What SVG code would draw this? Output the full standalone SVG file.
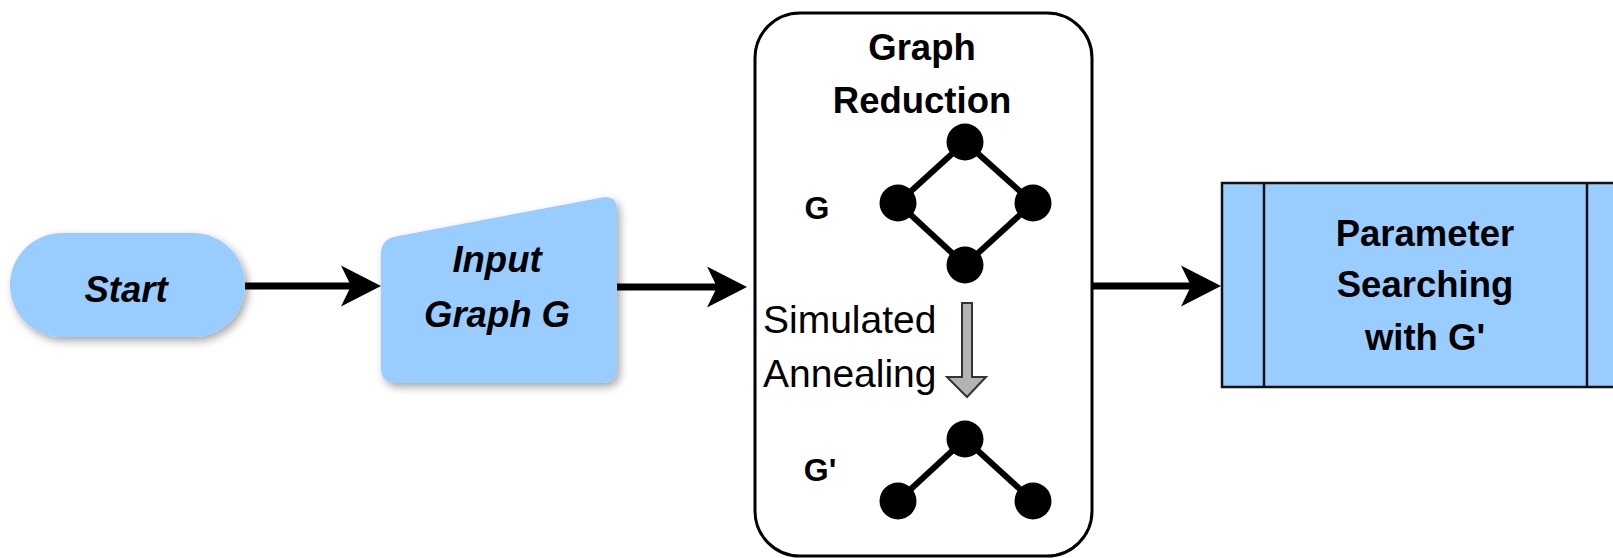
<svg xmlns="http://www.w3.org/2000/svg" width="1613" height="558" viewBox="0 0 1613 558">
  <style>
    .lbl { font-family: "Liberation Sans", Arial, sans-serif; fill: #000; }
    .bi { font-weight: bold; font-style: italic; font-size: 36.5px; text-anchor: middle; }
    .b { font-weight: bold; font-size: 36.5px; text-anchor: middle; }
    .g { font-weight: bold; font-size: 32px; text-anchor: middle; }
    .r { font-size: 39px; }
    .blue { fill: #99ccff; }
    .conn { stroke: #000; stroke-width: 7; fill: none; marker-end: url(#ah); }
    .edge { stroke: #000; stroke-width: 6; }
  </style>
  <defs>
    <filter id="sh" x="-20%" y="-20%" width="140%" height="150%">
      <feDropShadow dx="3" dy="4" stdDeviation="4" flood-color="#000" flood-opacity="0.35"/>
    </filter>
    <marker id="ah" markerUnits="userSpaceOnUse" markerWidth="44" markerHeight="44" viewBox="-12 -22 44 44" refX="0" refY="0" orient="auto">
      <path d="M30,0 L-10,-20.5 L0,0 L-10,20.5 Z" fill="#000"/>
    </marker>
  </defs>

  <g id="connectors">
    <line class="conn" x1="245" y1="286" x2="351" y2="286"/>
    <line class="conn" x1="617" y1="287" x2="717" y2="287"/>
    <line class="conn" x1="1092" y1="286" x2="1191" y2="286"/>
  </g>

  <g id="start">
    <rect class="blue" x="10" y="233" width="235" height="104" rx="52" filter="url(#sh)"/>
    <text class="lbl bi" x="126" y="302">Start</text>
  </g>

  <g id="input">
    <path class="blue" filter="url(#sh)" d="M381,254 Q381,239 395.8,236.4 L602.2,197.6 Q617,195 617,210 L617,368 Q617,383 602,383 L396,383 Q381,383 381,368 Z"/>
    <text class="lbl bi" x="497" y="272">Input</text>
    <text class="lbl bi" x="497" y="327">Graph G</text>
  </g>

  <g id="reduction">
    <rect x="755" y="13" width="337" height="543" rx="45" fill="#fff" stroke="#000" stroke-width="3"/>
    <text class="lbl b" x="922" y="60">Graph</text>
    <text class="lbl b" x="922" y="113">Reduction</text>
    <text class="lbl g" x="817" y="219">G</text>
    <g id="graph-g">
      <line class="edge" x1="965" y1="142" x2="898" y2="203"/>
      <line class="edge" x1="965" y1="142" x2="1033" y2="203"/>
      <line class="edge" x1="898" y1="203" x2="965" y2="265"/>
      <line class="edge" x1="1033" y1="203" x2="965" y2="265"/>
      <circle cx="965" cy="142" r="18.5"/>
      <circle cx="898" cy="203" r="18.5"/>
      <circle cx="1033" cy="203" r="18.5"/>
      <circle cx="965" cy="265" r="18.5"/>
    </g>
    <text class="lbl r" x="763" y="333">Simulated</text>
    <text class="lbl r" x="763" y="387">Annealing</text>
    <polygon points="962,303 972,303 972,377 986,377 967,397 947,377 962,377" fill="#b3b3b3" stroke="#333" stroke-width="2"/>
    <text class="lbl g" x="820" y="481">G'</text>
    <g id="graph-g2">
      <line class="edge" x1="965" y1="439" x2="898" y2="501"/>
      <line class="edge" x1="965" y1="439" x2="1033" y2="501"/>
      <circle cx="965" cy="439" r="18.5"/>
      <circle cx="898" cy="501" r="18.5"/>
      <circle cx="1033" cy="501" r="18.5"/>
    </g>
  </g>

  <g id="param">
    <rect class="blue" x="1222" y="183" width="420" height="204" stroke="#111" stroke-width="2.5"/>
    <line x1="1264" y1="183" x2="1264" y2="387" stroke="#111" stroke-width="2.5"/>
    <line x1="1587" y1="183" x2="1587" y2="387" stroke="#111" stroke-width="2.5"/>
    <text class="lbl b" x="1425" y="246">Parameter</text>
    <text class="lbl b" x="1425" y="297">Searching</text>
    <text class="lbl b" x="1425" y="350">with G'</text>
  </g>
</svg>
